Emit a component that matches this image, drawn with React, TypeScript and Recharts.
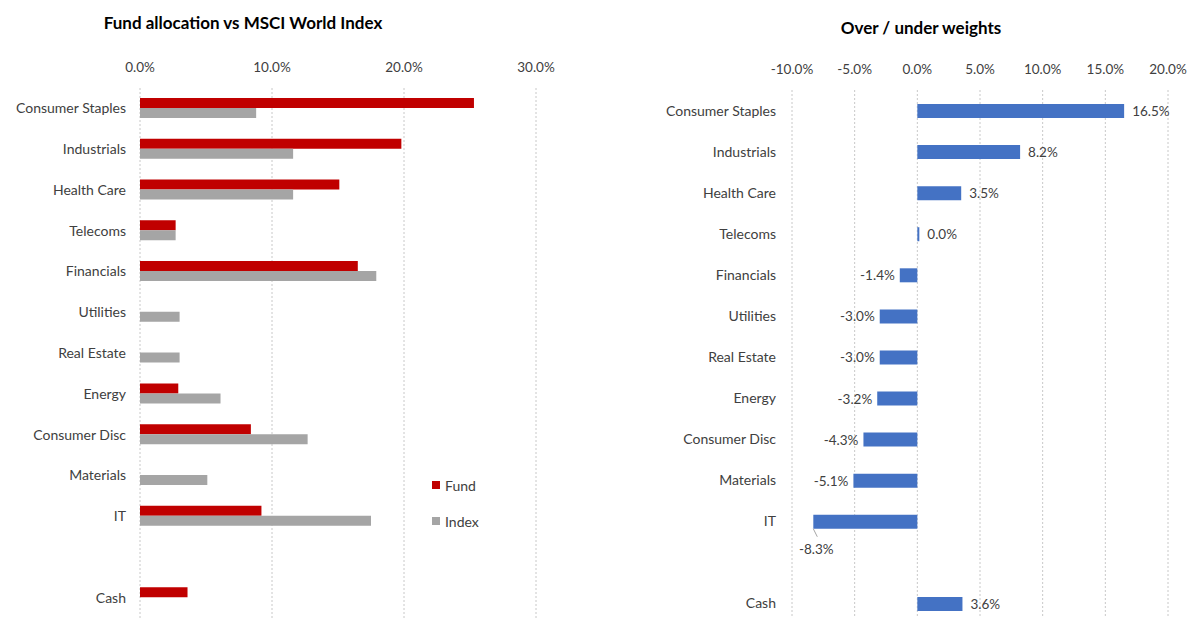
import React from 'react';
import { BarChart, Bar, XAxis, YAxis, CartesianGrid, LabelList } from 'recharts';

const categories = ['Consumer Staples', 'Industrials', 'Health Care', 'Telecoms', 'Financials', 'Utilities', 'Real Estate', 'Energy', 'Consumer Disc', 'Materials', 'IT', '', 'Cash'];
const fundWeights: (number | null)[] = [25.3, 19.8, 15.1, 2.7, 16.5, null, null, 2.9, 8.4, null, 9.2, null, 3.6];
const indexWeights: (number | null)[] = [8.8, 11.6, 11.6, 2.7, 17.9, 3.0, 3.0, 6.1, 12.7, 5.1, 17.5, null, null];
const relativeWeights: (number | null)[] = [16.5, 8.2, 3.5, 0.0, -1.4, -3.0, -3.0, -3.2, -4.3, -5.1, -8.3, null, 3.6];
const leftTicks = [0, 10, 20, 30];
const rightTicks = [-10, -5, 0, 5, 10, 15, 20];

const leftData = categories.map((name, i) => ({ name, fund: fundWeights[i], index: indexWeights[i] }));
const rightData = categories.map((name, i) => ({ name, rel: relativeWeights[i] }));

const FONT = 'Lato, "Open Sans", sans-serif';
const TXT = '#404040';
const fmt = (v: number) => `${v.toFixed(1)}%`;

const RelLabel = (props: any) => {
  const { x, y, width, height, value, index } = props;
  if (value === null || value === undefined) return null;
  const left = Math.min(x, x + width);
  const right = Math.max(x, x + width);
  const cy = y + height / 2;
  const style = { fontFamily: FONT, fontSize: 13.5, fill: TXT };
  if (categories[index] === 'IT') {
    return (
      <g>
        <line x1={left} y1={y + height} x2={left + 4} y2={y + height + 8} stroke="#a6a6a6" strokeWidth={1} />
        <text x={left + 3} y={cy + 27} textAnchor="middle" dominantBaseline="central" style={style}>{fmt(value)}</text>
      </g>
    );
  }
  if (value >= 0) {
    return <text x={right + 8} y={cy} textAnchor="start" dominantBaseline="central" style={style}>{fmt(value)}</text>;
  }
  return <text x={left - 5} y={cy} textAnchor="end" dominantBaseline="central" style={style}>{fmt(value)}</text>;
};

export default function App() {
  return (
    <div style={{ position: 'fixed', left: 0, top: 0, width: 1190, height: 618, overflow: 'hidden', background: '#fff', fontFamily: FONT }}>
      <div style={{ position: 'absolute', left: 0, width: 486, top: 12, textAlign: 'center', fontWeight: 700, fontSize: 17, color: '#000' }}>
        Fund allocation vs MSCI World Index
      </div>
      <div style={{ position: 'absolute', left: 821, width: 200, top: 17, textAlign: 'center', fontWeight: 700, fontSize: 17, color: '#000' }}>
        Over / under weights
      </div>

      <div style={{ position: 'absolute', left: 0, top: 0 }}>
        <BarChart width={600} height={618} layout="vertical" data={leftData} margin={{ top: 0, right: 64, bottom: 0, left: 0 }} barGap={0} barCategoryGap="48%">
          <CartesianGrid horizontal={false} strokeDasharray="2 2" stroke="#c8c8c8" />
          <XAxis type="number" orientation="top" domain={[0, 30]} ticks={leftTicks} tickFormatter={fmt} height={88}
            axisLine={false} tickLine={false} tickSize={0} tickMargin={16} tick={{ fill: TXT, fontSize: 13.5, fontFamily: FONT }} />
          <YAxis type="category" dataKey="name" width={140} axisLine={false} tickLine={false} tickSize={0} tickMargin={14}
            interval={0} tick={{ fill: TXT, fontSize: 14, fontFamily: FONT }} />
          <Bar dataKey="fund" fill="#c00000" barSize={10} isAnimationActive={false} />
          <Bar dataKey="index" fill="#a5a5a5" barSize={10} isAnimationActive={false} />
        </BarChart>
      </div>

      <div style={{ position: 'absolute', left: 432, top: 476, fontSize: 14, color: TXT }}>
        <div style={{ display: 'flex', alignItems: 'center', height: 18 }}>
          <span style={{ width: 8, height: 8, background: '#c00000', display: 'inline-block', marginRight: 5 }} />Fund
        </div>
        <div style={{ display: 'flex', alignItems: 'center', height: 18, marginTop: 18 }}>
          <span style={{ width: 8, height: 8, background: '#a5a5a5', display: 'inline-block', marginRight: 5 }} />Index
        </div>
      </div>

      <div style={{ position: 'absolute', left: 600, top: 0 }}>
        <BarChart width={590} height={624} layout="vertical" data={rightData} margin={{ top: 0, right: 22, bottom: 0, left: 0 }}>
          <CartesianGrid horizontal={false} strokeDasharray="2 2" stroke="#c8c8c8" />
          <XAxis type="number" orientation="top" domain={[-10, 20]} ticks={rightTicks} tickFormatter={fmt} height={90}
            axisLine={false} tickLine={false} tickSize={0} tickMargin={16} tick={{ fill: TXT, fontSize: 13.5, fontFamily: FONT }} />
          <YAxis type="category" dataKey="name" width={192} axisLine={false} tickLine={false} tickSize={0} tickMargin={16}
            interval={0} tick={{ fill: TXT, fontSize: 14, fontFamily: FONT }} />
          <Bar dataKey="rel" fill="#4472c4" barSize={14} minPointSize={2} isAnimationActive={false}>
            <LabelList dataKey="rel" content={RelLabel} />
          </Bar>
        </BarChart>
      </div>
    </div>
  );
}
